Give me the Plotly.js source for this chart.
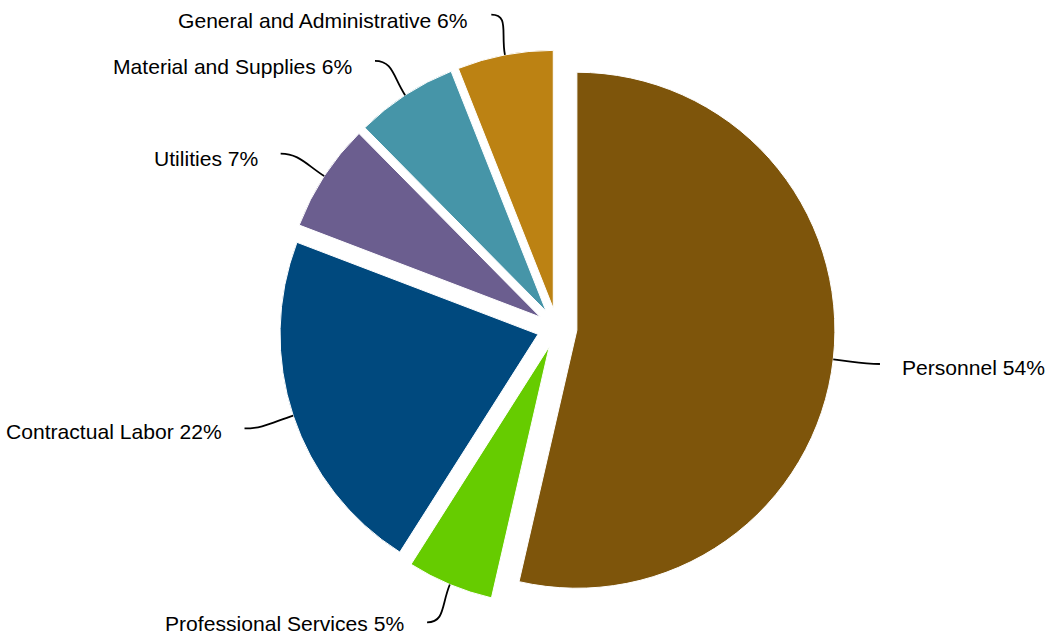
<!DOCTYPE html>
<html><head><meta charset="utf-8">
<script src="https://cdn.plot.ly/plotly-3.0.1.min.js"></script>
<style>html,body{margin:0;padding:0;background:#fff;}#chart{width:1049px;height:636px;}</style>
</head><body><div id="chart"></div>
<script>
const categories = ['Personnel','Professional Services','Contractual Labor','Utilities','Material and Supplies','General and Administrative'];
const shares = [53.6, 5.4, 21.8, 6.8, 6.4, 6.0];
const colors = ['#7E550B','#66CC00','#00497E','#6B5E8F','#4695A8','#BC8213'];

const W = 1049, H = 636;
const PULL = 0.0775;
const DOMX = [0.211, 0.851], DOMY = [0.0472, 0.9214];
const FONT = {family: '"Liberation Sans", Arial, sans-serif', size: 21.1, color: '#000000'};

const trace = {
  type: 'pie', labels: categories, values: shares, sort: false,
  direction: 'clockwise', rotation: 0, pull: PULL,
  marker: {colors: colors, line: {color: '#ffffff', width: 1}},
  textinfo: 'none', hoverinfo: 'label+percent',
  domain: {x: DOMX, y: DOMY}, showlegend: false
};
const layout = {
  width: W, height: H, margin: {l: 0, r: 0, t: 0, b: 0},
  paper_bgcolor: '#ffffff', showlegend: false, font: FONT
};

Plotly.newPlot('chart', [trace], layout, {displayModeBar: false, staticPlot: true}).then(function (gd) {
  let cx, cy, r;
  const cd0 = gd.calcdata && gd.calcdata[0] && gd.calcdata[0][0];
  if (cd0 && cd0.r) { cx = cd0.cx; cy = cd0.cy; r = cd0.r; }
  else {
    const bw = W * (DOMX[1] - DOMX[0]), bh = H * (DOMY[1] - DOMY[0]);
    r = Math.min(bw, bh) / (2 + 2 * PULL);
    cx = W * (DOMX[0] + DOMX[1]) / 2;
    cy = H * (1 - DOMY[0]) - bh / 2;
  }
  const X = px => px / W, Y = py => 1 - py / H;
  const total = shares.reduce((a, b) => a + b, 0);
  let cum = 0;
  const shapes = [], annotations = [];
  shares.forEach(function (v, i) {
    const mid = (cum + v / 2) / total * 2 * Math.PI; cum += v;
    const dx = Math.sin(mid), dy = -Math.cos(mid);
    const side = dx >= 0 ? 1 : -1;
    const pcx = cx + PULL * r * dx, pcy = cy + PULL * r * dy;
    const p0 = [pcx + r * dx, pcy + r * dy];
    const p2 = [cx + (r + 66) * dx + (side > 0 ? 1 : -5), cy + (r + 61) * dy];
    const c1 = [p0[0] + dx * 22, p0[1] + dy * 22];
    const c2 = [p2[0] - side * 18, p2[1]];
    shapes.push({
      type: 'path', xref: 'paper', yref: 'paper',
      path: 'M ' + X(p0[0]) + ',' + Y(p0[1]) + ' C ' + X(c1[0]) + ',' + Y(c1[1]) + ' ' +
            X(c2[0]) + ',' + Y(c2[1]) + ' ' + X(p2[0]) + ',' + Y(p2[1]),
      line: {color: '#000000', width: 1.8}
    });
    annotations.push({
      xref: 'paper', yref: 'paper', x: X(p2[0] + side * (side > 0 ? 20 : 21)), y: Y(p2[1] + 3.5 - 2.5 * dy),
      xanchor: side > 0 ? 'left' : 'right', yanchor: 'middle', showarrow: false,
      text: categories[i] + ' ' + Math.round(v / total * 100) + '%',
      font: FONT
    });
  });
  return Plotly.relayout(gd, {shapes: shapes, annotations: annotations});
});
</script>
</body></html>
